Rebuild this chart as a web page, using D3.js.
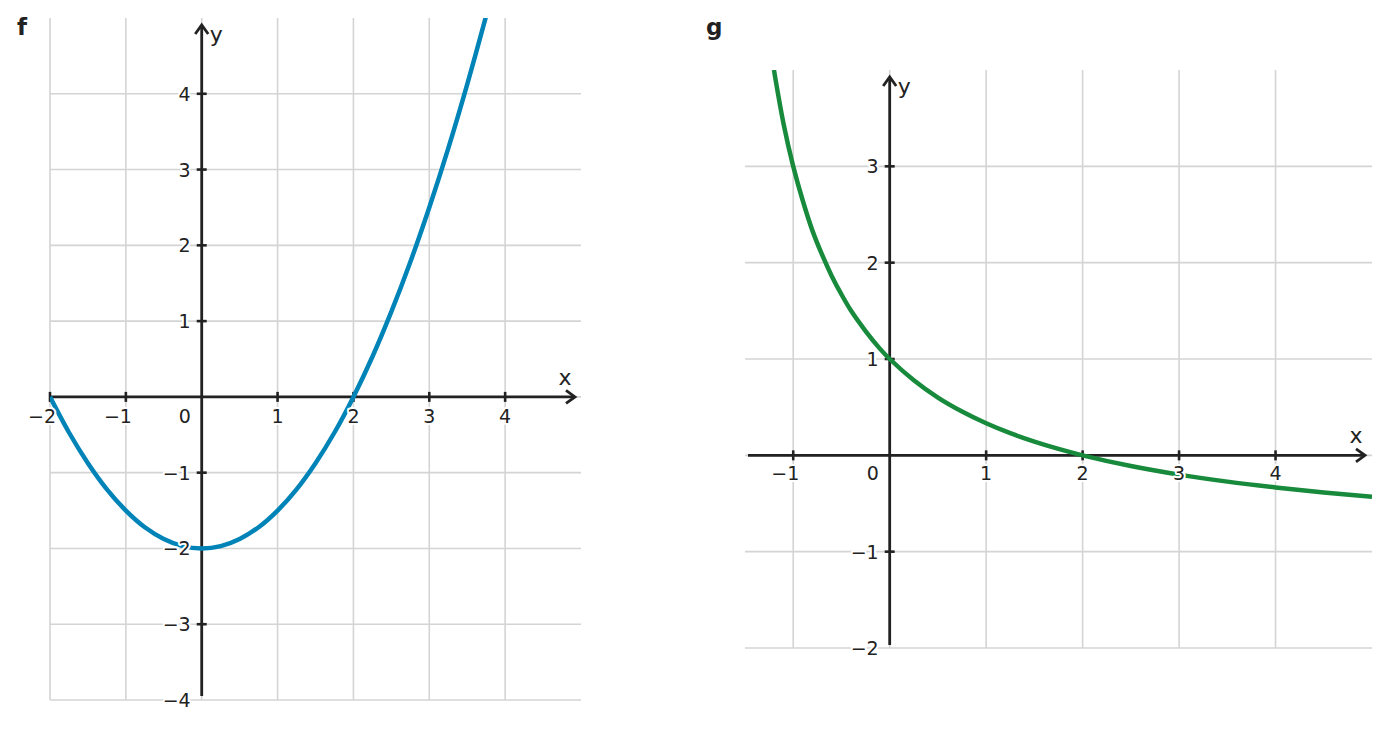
<!DOCTYPE html>
<html><head><meta charset="utf-8">
<script src="https://cdn.jsdelivr.net/npm/d3@7"></script>
<style>body{margin:0;background:#fff}svg{display:block}text{font-family:"DejaVu Sans",sans-serif;fill:#222}</style>
</head><body>
<svg id="c" width="1389" height="729"></svg>
<script>
// ---- data ----
const fX = [-2,-1.75,-1.5,-1.25,-1,-0.75,-0.5,-0.25,0,0.25,0.5,0.75,1,1.25,1.5,1.75,2,2.25,2.5,2.75,3,3.25,3.5,3.75];
const fY = [0,-0.47,-0.875,-1.22,-1.5,-1.72,-1.875,-1.97,-2,-1.97,-1.875,-1.72,-1.5,-1.22,-0.875,-0.47,0,0.53,1.125,1.78,2.5,3.28,4.125,5.03];
const gX = [-1.2,-1.1,-1,-0.9,-0.8,-0.7,-0.6,-0.5,-0.4,-0.25,-0.1,0,0.25,0.5,0.75,1,1.25,1.5,1.75,2,2.5,3,3.5,4,4.5,5];
const gY = [4,3.44,3,2.64,2.33,2.08,1.86,1.67,1.5,1.29,1.105,1,0.78,0.6,0.455,0.333,0.23,0.143,0.067,0,-0.111,-0.2,-0.273,-0.333,-0.385,-0.429];
const fXTicks = [-2,-1,1,2,3,4];
const fYTicks = [-4,-3,-2,-1,1,2,3,4];
const fXGrid = [-2,-1,0,1,2,3,4];
const fYGrid = [-4,-3,-2,-1,0,1,2,3,4];
const gXTicks = [-1,1,2,3,4];
const gYTicks = [-2,-1,1,2,3];
const gXGrid = [-1,0,1,2,3,4];
const gYGrid = [-2,-1,0,1,2,3];

const svg = d3.select("#c");
const dark = "#222";
const FS = 19;

function panel(o){
  const x = d3.scaleLinear().domain(o.xd).range(o.xr);
  const y = d3.scaleLinear().domain(o.yd).range(o.yr);
  const g = svg.append("g");
  // grid
  g.selectAll(".vg").data(o.xGrid).join("line")
    .attr("x1",d=>x(d)).attr("x2",d=>x(d)).attr("y1",o.yr[0]).attr("y2",o.yr[1])
    .attr("stroke","#d4d4d4").attr("stroke-width",1.6);
  g.selectAll(".hg").data(o.yGrid).join("line")
    .attr("y1",d=>y(d)).attr("y2",d=>y(d)).attr("x1",o.xr[0]).attr("x2",o.xr[1])
    .attr("stroke","#d4d4d4").attr("stroke-width",1.6);
  // axes
  const x0 = x(0), y0 = y(0);
  const ax = g.append("g").attr("stroke",dark).attr("stroke-width",2.8).attr("fill","none");
  ax.append("line").attr("x1",o.xAxisStart).attr("x2",o.xAxisEnd).attr("y1",y0).attr("y2",y0);
  ax.append("path").attr("d",`M${o.xAxisEnd-9},${y0-6.5}L${o.xAxisEnd},${y0}L${o.xAxisEnd-9},${y0+6.5}`);
  ax.append("line").attr("x1",x0).attr("x2",x0).attr("y1",o.yAxisStart).attr("y2",o.yAxisEnd);
  ax.append("path").attr("d",`M${x0-6.5},${o.yAxisEnd+9}L${x0},${o.yAxisEnd}L${x0+6.5},${o.yAxisEnd+9}`);
  // ticks
  g.selectAll(".xt").data(o.xTicks).join("line")
    .attr("x1",d=>x(d)).attr("x2",d=>x(d)).attr("y1",y0-5).attr("y2",y0+5)
    .attr("stroke",dark).attr("stroke-width",2.6);
  g.selectAll(".yt").data(o.yTicks.filter(d=>d!==o.yd[0])).join("line")
    .attr("y1",d=>y(d)).attr("y2",d=>y(d)).attr("x1",x0-5).attr("x2",x0+5)
    .attr("stroke",dark).attr("stroke-width",2.6);
  // curve
  const clipId = "clip"+o.name;
  svg.append("clipPath").attr("id",clipId).append("rect")
    .attr("x",o.xr[0]).attr("y",o.yr[1]).attr("width",o.xr[1]-o.xr[0]).attr("height",o.yr[0]-o.yr[1]);
  const line = d3.line().x(d=>x(d[0])).y(d=>y(d[1])).curve(d3.curveCatmullRom);
  g.append("path").datum(o.cx.map((v,i)=>[v,o.cy[i]]))
    .attr("d",line).attr("fill","none").attr("stroke",o.color).attr("stroke-width",4.5)
    .attr("clip-path",`url(#${clipId})`);
  // tick labels
  const lab = g.append("g").style("font-size",FS+"px").attr("stroke","#fff").attr("stroke-width",4)
    .attr("paint-order","stroke").attr("stroke-linejoin","round");
  // x labels: digit centred on tick, minus hanging to the left
  o.xTicks.forEach(d=>{
    const t = lab.append("text").attr("x",x(d)).attr("y",y0+o.xLabOff)
      .attr("text-anchor","middle").text(String(Math.abs(d)));
    if(d<0){
      const w = t.node().getComputedTextLength();
      lab.append("text").attr("x",x(d)-w/2).attr("y",y0+o.xLabOff)
        .attr("text-anchor","end").text("\u2212");
    }
  });
  const fmt = d=> d<0 ? "\u2212"+Math.abs(d) : String(d);
  lab.selectAll(".yl").data(o.yTicks).join("text")
    .attr("x",x0-11).attr("y",d=>y(d)+7).attr("text-anchor","end").text(fmt);
  lab.append("text").attr("x",x0-17).attr("y",y0+o.xLabOff).attr("text-anchor","middle").text("0");
  // axis names
  g.append("text").attr("x",o.xNameX).attr("y",o.xNameY).style("font-size","22px").attr("text-anchor","middle").text("x");
  g.append("text").attr("x",x0+8).attr("y",o.yAxisEnd+17).style("font-size","22px").text("y");
  // panel letter
  g.append("text").attr("x",o.letterX).attr("y",35).style("font-size","23px").attr("font-weight","bold").text(o.name);
}

panel({name:"f", xd:[-2,5], xr:[50,581], yd:[-4,5], yr:[700,18],
  xGrid:fXGrid, yGrid:fYGrid, xTicks:fXTicks, yTicks:fYTicks,
  xAxisStart:50, xAxisEnd:575, yAxisStart:696, yAxisEnd:25,
  cx:fX, cy:fY, color:"#0084b8", xLabOff:26, xNameX:565, xNameY:385, letterX:17});
panel({name:"g", xd:[-1.5,5], xr:[745,1372], yd:[-2,4], yr:[648,70],
  xGrid:gXGrid, yGrid:gYGrid, xTicks:gXTicks, yTicks:gYTicks,
  xAxisStart:748, xAxisEnd:1365, yAxisStart:645, yAxisEnd:77,
  cx:gX, cy:gY, color:"#178a3c", xLabOff:25, xNameX:1356, xNameY:443, letterX:706});
</script>
</body></html>
